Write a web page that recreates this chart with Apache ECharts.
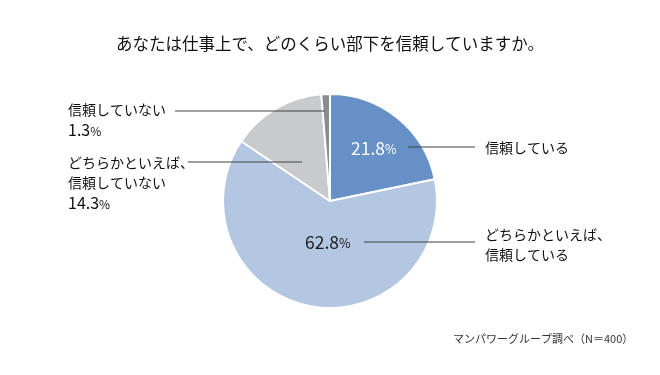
<!DOCTYPE html>
<html><head><meta charset="utf-8">
<script src="https://cdn.jsdelivr.net/npm/echarts@6/dist/echarts.min.js"></script>
<style>html,body{margin:0;padding:0;background:#fff}#c{width:660px;height:375px}</style>
</head><body><div id="c"></div>
<script>
const titleText = 'あなたは仕事上で、どのくらい部下を信頼していますか。';
const sourceText = 'マンパワーグループ調べ（N＝400）';
const categories = ['信頼している', 'どちらかといえば、\n信頼している', 'どちらかといえば、\n信頼していない', '信頼していない'];
const values = [21.8, 62.8, 14.3, 1.3];
const colors = ['#6690c6', '#b3c6e2', '#c9cacd', '#8c8c8c'];

const FONT = '"Noto Sans CJK JP", "Noto Sans", sans-serif';
const chart = echarts.init(document.getElementById('c'));

// layout of labels (positions only)
const innerPos = {0: [351, 148], 1: [305, 242]};
const outerPos = {0: [485, 148], 1: [485, 245], 2: [68, 183], 3: [68, 120]};
const leaders = [[408, 147, 475, 147], [364, 242, 475, 242], [188, 162, 302, 162], [175, 111, 325, 111]];

const mainData = categories.map((c, i) => ({
  name: c, value: values[i], itemStyle: {color: colors[i]},
  label: {show: i < 2, color: i === 0 ? '#ffffff' : '#1a1a1a'}
}));
const labelData = categories.map((c, i) => ({name: c, value: values[i]}));

chart.setOption({
  animation: false,
  title: {
    text: titleText, left: 'center', top: 30,
    textStyle: {fontFamily: FONT, fontSize: 16.5, fontWeight: 'normal', color: '#111'}
  },
  graphic: [{
    type: 'text', left: 453, top: 333,
    style: {text: sourceText, font: '11px ' + FONT, fill: '#333'}
  }].concat(leaders.map(l => ({
    type: 'line', z: 100, shape: {x1: l[0], y1: l[1], x2: l[2], y2: l[3]},
    style: {stroke: '#404040', lineWidth: 1}
  }))),
  series: [{
    type: 'pie', radius: 107, center: [330, 201], startAngle: 90, clockwise: true,
    itemStyle: {borderColor: '#ffffff', borderWidth: 2},
    label: {
      position: 'inside',
      formatter: p => '{v|' + p.value.toFixed(1) + '}{p|%}',
      rich: {
        v: {fontFamily: FONT, fontSize: 17.5},
        p: {fontFamily: FONT, fontSize: 12.5, padding: [3, 0, 0, 0]}
      }
    },
    labelLine: {show: false},
    labelLayout: p => {
      const q = innerPos[p.dataIndex];
      if (!q) return {};
      return {x: q[0], y: q[1], align: 'left', verticalAlign: 'middle'};
    },
    emphasis: {disabled: true},
    data: mainData
  }, {
    type: 'pie', radius: 107, center: [330, 201], startAngle: 90, clockwise: true, silent: true,
    itemStyle: {color: 'rgba(0,0,0,0)', borderWidth: 0},
    label: {
      show: true, position: 'outside', align: 'left',
      formatter: p => (p.dataIndex >= 2 ? '{n|' + p.name + '}\n{v|' + p.value.toFixed(1) + '}{p|%}' : '{n|' + p.name + '}'),
      rich: {
        n: {fontFamily: FONT, fontSize: 14, color: '#111', lineHeight: 20},
        v: {fontFamily: FONT, fontSize: 16, color: '#111', lineHeight: 20},
        p: {fontFamily: FONT, fontSize: 12, color: '#111', lineHeight: 20, padding: [3, 0, 0, 0]}
      }
    },
    labelLine: {show: false},
    labelLayout: p => {
      const o = outerPos[p.dataIndex];
      if (!o) return {};
      return {x: o[0], y: o[1], align: 'left', verticalAlign: 'middle'};
    },
    emphasis: {disabled: true},
    data: labelData
  }]
});
</script></body></html>
